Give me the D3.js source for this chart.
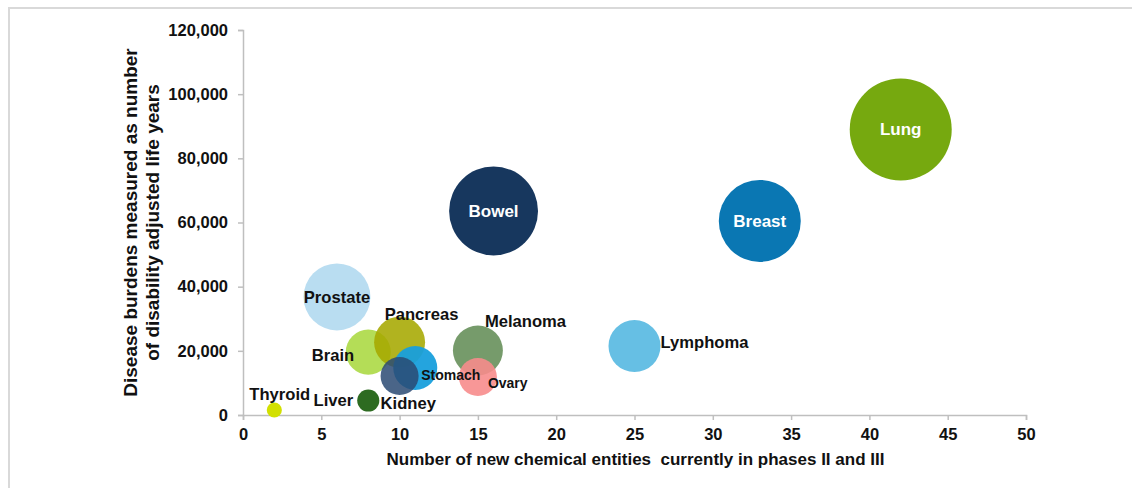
<!DOCTYPE html>
<html>
<head>
<meta charset="utf-8">
<script src="https://cdn.jsdelivr.net/npm/d3@7/dist/d3.min.js"></script>
<style>
  html, body { margin: 0; padding: 0; background: #fff; }
  svg { display: block; font-family: "Liberation Sans", Arial, sans-serif; font-weight: bold; }
</style>
</head>
<body>
<svg id="chart" width="1132" height="488"></svg>
<script>
// Cancer types and their pipeline / burden figures
const cancers     = ["Lung", "Breast", "Bowel", "Prostate", "Lymphoma", "Melanoma", "Ovary",
                     "Brain", "Pancreas", "Stomach", "Kidney", "Liver", "Thyroid"];
const newEntities = [42, 33, 16, 6, 25, 15, 15, 8, 10, 11, 10, 8, 2];
const dalys       = [89000, 60500, 63600, 36800, 21500, 20100, 11850, 19600, 22700, 14650, 12150, 4500, 1560];
const bubbleSize  = [100, 64.6, 76, 43, 26, 24, 13.9, 19.5, 25, 18.6, 13.9, 4.7, 2.2];
const colors      = ["#76a90f", "#0a77b3", "#17375e", "#b1d9ef", "#66bfe4", "#67905b", "#f78c8c",
                     "#acd945", "#a6a800", "#189fdc", "#2a4a73", "#2d6b21", "#d2e000"];
const opacities   = [1, 1, 1, 0.9, 1, 0.9, 0.9, 0.9, 0.88, 0.95, 0.85, 1, 1];

const xTicks = [0, 5, 10, 15, 20, 25, 30, 35, 40, 45, 50];
const yTicks = [0, 20000, 40000, 60000, 80000, 100000, 120000];

const xTitle = "Number of new chemical entities  currently in phases II and III";
const yTitle = ["Disease burdens measured as number", "of disability adjusted life years"];

// Label placement relative to each bubble centre
const labelStyle = {
  Lung:     { dx: 0,   dy: 0,   anchor: "middle", fill: "#fff", size: 17 },
  Breast:   { dx: 0,   dy: 0,   anchor: "middle", fill: "#fff", size: 17 },
  Bowel:    { dx: 0,   dy: 0,   anchor: "middle", fill: "#fff", size: 17 },
  Prostate: { dx: 0,   dy: 0,   anchor: "middle" },
  Lymphoma: { dx: 26,  dy: -4,  anchor: "start" },
  Melanoma: { dx: 7,   dy: -29, anchor: "start" },
  Pancreas: { dx: 22,  dy: -28, anchor: "middle" },
  Brain:    { dx: -14, dy: 3,   anchor: "end" },
  Stomach:  { dx: 6,   dy: 7,   anchor: "start", size: 14 },
  Kidney:   { dx: -19, dy: 27,  anchor: "start" },
  Ovary:    { dx: 10,  dy: 6,   anchor: "start", size: 14 },
  Liver:    { dx: -15, dy: 0,   anchor: "end" },
  Thyroid:  { dx: -25, dy: -16, anchor: "start" }
};

const svg = d3.select("#chart");

// Outer frame
svg.append("path")
  .attr("d", "M9,490 V8 H1140")
  .attr("fill", "none")
  .attr("stroke", "#d9d9d9")
  .attr("stroke-width", 2);

const margin = { left: 243, right: 106, top: 30, bottom: 73 };
const W = 1132, H = 488;

const x = d3.scaleLinear().domain([0, 50]).range([margin.left, W - margin.right]);
const y = d3.scaleLinear().domain([0, 120000]).range([H - margin.bottom, margin.top]);
const r = d3.scaleSqrt().domain([0, 100]).range([0, 51]);

// Axes
const xAxis = svg.append("g")
  .attr("transform", `translate(0,${y(0)})`)
  .call(d3.axisBottom(x).tickValues(xTicks).tickSize(5).tickPadding(8).tickFormat(d3.format("d")));
const yAxis = svg.append("g")
  .attr("transform", `translate(${x(0)},0)`)
  .call(d3.axisLeft(y).tickValues(yTicks).tickSize(5).tickPadding(10).tickFormat(d3.format(",")));

[xAxis, yAxis].forEach(g => {
  g.select(".domain").attr("stroke", "#bfbfbf").attr("stroke-width", 1.5);
  g.selectAll(".tick line").attr("stroke", "#bfbfbf").attr("stroke-width", 1.5);
  g.selectAll(".tick text")
    .attr("fill", "#111")
    .style("font-family", "'Liberation Sans', Arial, sans-serif")
    .style("font-weight", "bold")
    .style("font-size", "16.5px");
});

// Axis titles
svg.append("text")
  .attr("x", (x(0) + x(50)) / 2 + 1)
  .attr("y", 465)
  .attr("text-anchor", "middle")
  .attr("fill", "#111")
  .style("font-size", "17px")
  .style("white-space", "pre")
  .text(xTitle);

const yMid = (y(0) + y(120000)) / 2;
svg.append("text")
  .attr("transform", `translate(137,${yMid}) rotate(-90)`)
  .attr("text-anchor", "middle")
  .attr("fill", "#111")
  .style("font-size", "19px")
  .selectAll("tspan")
  .data(yTitle)
  .join("tspan")
  .attr("x", 0)
  .attr("dy", (d, i) => i === 0 ? 0 : "1.16em")
  .text(d => d);

// Bubbles
const data = cancers.map((name, i) => ({
  name, nce: newEntities[i], daly: dalys[i], size: bubbleSize[i],
  color: colors[i], opacity: opacities[i]
}));

svg.append("g")
  .selectAll("circle")
  .data(data)
  .join("circle")
  .attr("cx", d => x(d.nce))
  .attr("cy", d => y(d.daly))
  .attr("r", d => r(d.size))
  .attr("fill", d => d.color)
  .attr("fill-opacity", d => d.opacity);

// Bubble labels
svg.append("g")
  .selectAll("text")
  .data(data)
  .join("text")
  .attr("x", d => x(d.nce) + labelStyle[d.name].dx)
  .attr("y", d => y(d.daly) + labelStyle[d.name].dy)
  .attr("dy", "0.35em")
  .attr("text-anchor", d => labelStyle[d.name].anchor)
  .attr("fill", d => labelStyle[d.name].fill || "#111")
  .style("font-size", d => (labelStyle[d.name].size || 16.6) + "px")
  .text(d => d.name);
</script>
</body>
</html>
